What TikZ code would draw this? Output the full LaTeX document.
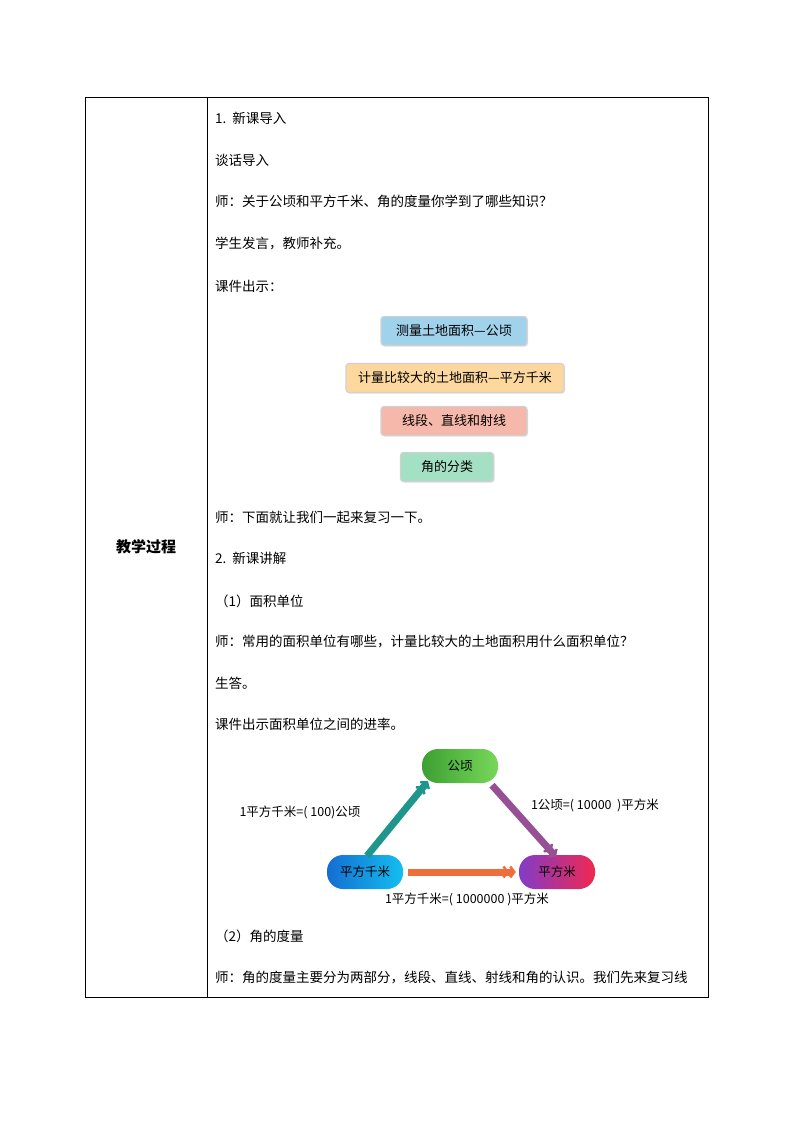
\documentclass[tikz,border=0pt]{standalone}
\usepackage{fontspec}
\setmainfont{Noto Sans CJK SC}
\usetikzlibrary{arrows.meta,shadows}
\begin{document}
\begin{tikzpicture}[x=1pt,y=-1pt,
  txt/.style={anchor=west,font=\fontsize{13.5}{15}\selectfont,inner sep=0},
  sbox/.style={draw=black!18,line width=1.2pt,rounded corners=3pt,minimum height=29pt,font=\fontsize{13}{15}\selectfont,drop shadow={opacity=0.25,shadow xshift=1pt,shadow yshift=-1pt}},
  pill/.style={rounded corners=16pt,minimum height=34pt,minimum width=76pt,font=\fontsize{12.5}{14}\selectfont,inner sep=0},
  conv/.style={line width=7pt,-{Straight Barb[length=4pt,width=11pt,line width=2.5pt]Straight Barb[length=4pt,width=11pt,line width=2.5pt]}},
  lab/.style={font=\fontsize{12.5}{14}\selectfont,inner sep=0}]
\useasboundingbox (0,0) rectangle (793,1122);
\draw[line width=0.8pt] (85,97) rectangle (708,997);
\draw[line width=0.8pt] (207,97) -- (207,997);
\node[font=\fontsize{15}{17}\selectfont\bfseries] (head) at (146,547) {教学过程};
\node[txt] (l1) at (215,118) {1.\ \ 新课导入};
\node[txt] (l2) at (215,160) {谈话导入};
\node[txt] (l3) at (215,201) {师：关于公顷和平方千米、角的度量你学到了哪些知识？};
\node[txt] (l4) at (215,243) {学生发言，教师补充。};
\node[txt] (l5) at (215,286) {课件出示：};
\node[sbox,fill={rgb,255:red,160;green,210;blue,235},minimum width=146pt] (b1) at (454,331) {测量土地面积—公顷};
\node[sbox,fill={rgb,255:red,252;green,216;blue,158},minimum width=218pt] (b2) at (455,378) {计量比较大的土地面积—平方千米};
\node[sbox,fill={rgb,255:red,245;green,184;blue,170},minimum width=146pt] (b3) at (454,421) {线段、直线和射线};
\node[sbox,fill={rgb,255:red,164;green,225;blue,196},minimum width=93pt] (b4) at (447,467) {角的分类};
\node[txt] (l6) at (215,517) {师：下面就让我们一起来复习一下。};
\node[txt] (l7) at (215,558) {2.\ \ 新课讲解};
\node[txt] (l8) at (215,601) {（1）面积单位};
\node[txt] (l9) at (215,641) {师：常用的面积单位有哪些，计量比较大的土地面积用什么面积单位？};
\node[txt] (l10) at (215,683) {生答。};
\node[txt] (l11) at (215,724) {课件出示面积单位之间的进率。};
\node[pill,left color={rgb,255:red,60;green,160;blue,50},right color={rgb,255:red,120;green,215;blue,90}] (gq) at (460,766) {公顷};
\node[pill,left color={rgb,255:red,20;green,110;blue,210},right color={rgb,255:red,20;green,190;blue,240}] (km) at (365,872) {平方千米};
\node[pill,left color={rgb,255:red,130;green,60;blue,200},right color={rgb,255:red,240;green,40;blue,80}] (m) at (557,872) {平方米};
\draw[conv,color={rgb,255:red,30;green,150;blue,140}] ([xshift=2pt,yshift=-1pt]km.north) -- ([xshift=-32pt,yshift=2pt]gq.south);
\draw[conv,color={rgb,255:red,150;green,80;blue,150}] ([xshift=32pt,yshift=-2pt]gq.south) -- ([xshift=-1pt,yshift=-2pt]m.north);
\draw[conv,color={rgb,255:red,240;green,110;blue,60}] ([xshift=5pt]km.east) -- ([xshift=-3pt]m.west);
\node[lab] (t1) at (300,812) {1平方千米=( 100)公顷};
\node[lab] (t2) at (595,805) {1公顷=( 10000\ \ )平方米};
\node[lab] (t3) at (467,899) {1平方千米=(\ 1000000 )平方米};
\node[txt] (l12) at (215,936) {（2）角的度量};
\node[txt] (l13) at (215,977) {师：角的度量主要分为两部分，线段、直线、射线和角的认识。我们先来复习线};
\end{tikzpicture}
\end{document}
